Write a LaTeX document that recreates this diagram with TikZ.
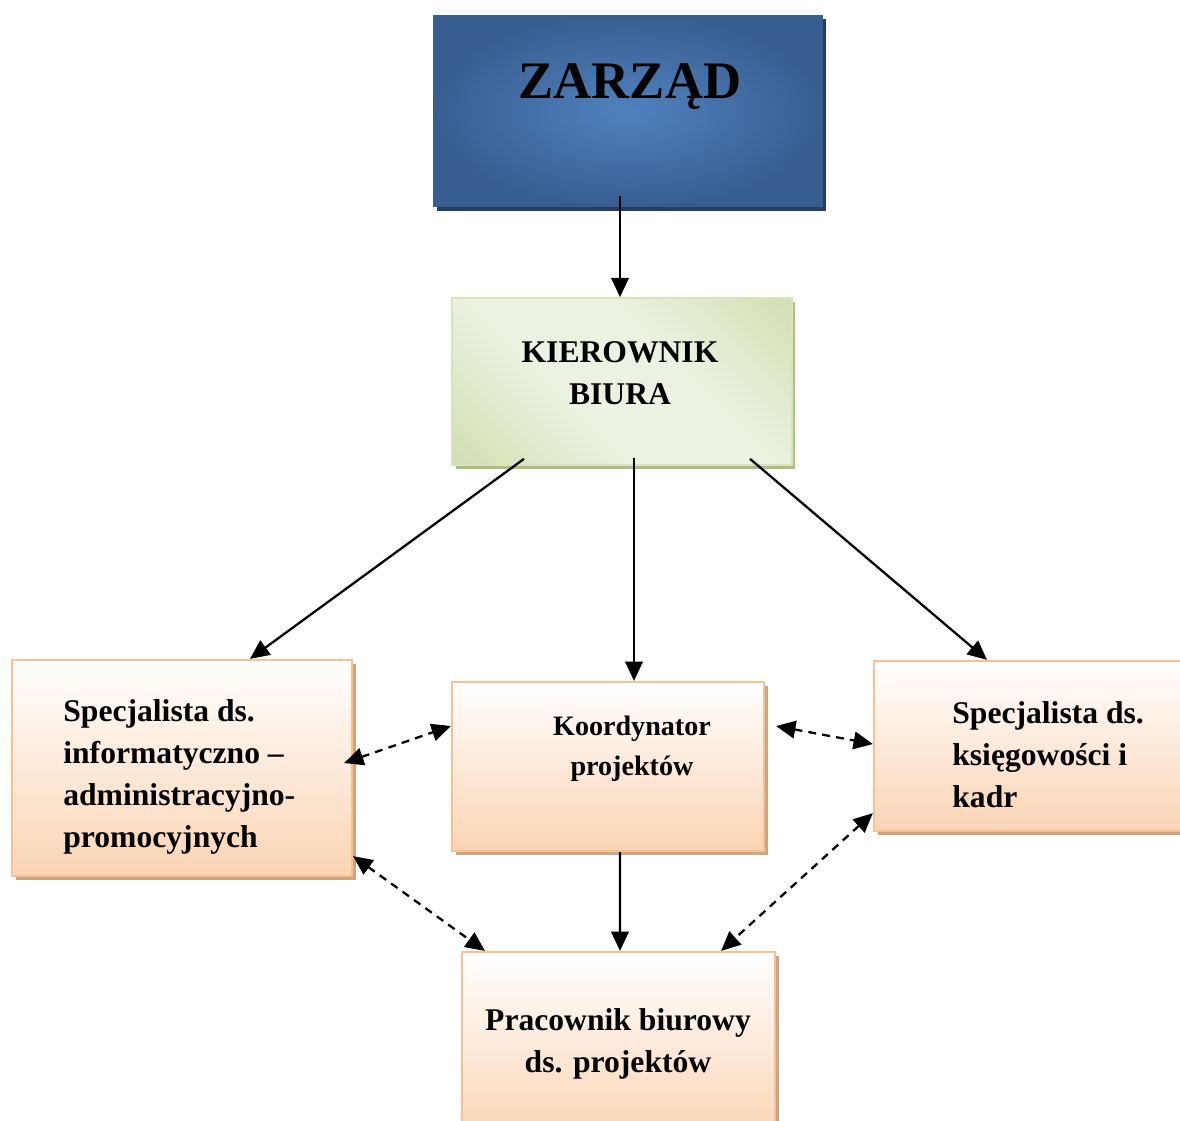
\documentclass[tikz,border=0pt]{standalone}
\usepackage{fontspec}
\setmainfont{Liberation Serif}
\usetikzlibrary{calc}
\usetikzlibrary{arrows.meta}
\usetikzlibrary{shadows}
\definecolor{zarzadin}{RGB}{80,130,190}
\definecolor{zarzadout}{RGB}{56,94,145}
\definecolor{zarzadsh}{RGB}{36,62,96}
\definecolor{kierlight}{RGB}{236,242,225}
\definecolor{kierdark}{RGB}{196,215,155}
\definecolor{kiermid}{RGB}{216,229,190}
\definecolor{kierline}{RGB}{215,228,189}
\definecolor{kiersh}{RGB}{170,190,130}
\definecolor{orbottom}{RGB}{251,212,180}
\definecolor{orline}{RGB}{250,192,144}
\definecolor{orsh}{RGB}{205,165,130}
\pgfdeclarehorizontalshading{kiershade}{100bp}{color(0bp)=(kierdark); color(22bp)=(kiermid); color(40bp)=(kierlight); color(60bp)=(kierlight); color(78bp)=(kiermid); color(100bp)=(kierdark)}
\tikzset{zarzadbox/.style={rectangle, inner color=zarzadin, outer color=zarzadout, drop shadow={shadow xshift=2pt, shadow yshift=-2.5pt, fill=zarzadsh, opacity=1}}}
\tikzset{kierbox/.style={rectangle, draw=kierline, line width=1pt, shading=kiershade, shading angle=45, drop shadow={shadow xshift=2pt, shadow yshift=-2.5pt, fill=kiersh, opacity=1}}}
\tikzset{orbox/.style={rectangle, draw=orline, line width=1.3pt, top color=white, bottom color=orbottom, drop shadow={shadow xshift=2.5pt, shadow yshift=-2.5pt, fill=orsh, opacity=1}}}
\tikzset{lab/.style={font=\bfseries\fontsize{18}{23.8}\selectfont, inner sep=0pt}}
\tikzset{link/.style={line width=1.3pt, -{Triangle[length=11pt,width=10pt]}}}
\tikzset{dlink/.style={line width=1.3pt, dash pattern=on 4.5pt off 3.5pt, {Triangle[length=11pt,width=10pt]}-{Triangle[length=11pt,width=10pt]}}}

\begin{document}
\begin{tikzpicture}[x=0.02cm,y=-0.02cm]
  \useasboundingbox (0,0) rectangle (1180,1120);
  % boxes
  \node[zarzadbox, minimum width=7.8cm, minimum height=3.84cm] (zarzad) at (628,111) {};
  \node[kierbox, minimum width=6.8cm, minimum height=3.34cm] (kier) at (622,381.5) {};
  \node[orbox, minimum width=6.8cm, minimum height=4.32cm] (specl) at (182,768) {};
  \node[orbox, minimum width=6.24cm, minimum height=3.38cm] (koord) at (608,766.5) {};
  \node[orbox, minimum width=6.52cm, minimum height=3.4cm] (specr) at (1037,746) {};
  \node[orbox, minimum width=6.26cm, minimum height=3.76cm] (prac) at (618.5,1046) {};
  % texts (base = last line)
  \node[lab, font=\bfseries\fontsize{30}{36}\selectfont, anchor=base] (zarzadtxt) at (630,98) {ZARZĄD};
  \node[lab, align=center, anchor=base] (kiertxt) at (620,404) {KIEROWNIK\\BIURA};
  \node[lab, align=left, anchor=base west] (specltxt) at (63,847) {Specjalista ds.\\informatyczno --\\administracyjno-\\promocyjnych};
  \node[lab, font=\bfseries\fontsize{16}{22.7}\selectfont, align=center, anchor=base] (koordtxt) at (632,775) {Koordynator\\projektów};
  \node[lab, align=left, anchor=base west] (specrtxt) at (952,807) {Specjalista ds.\\księgowości i\\kadr};
  \node[lab, align=center, anchor=base] (practxt) at (618,1072) {Pracownik biurowy\\ds. projektów};
  % solid connectors
  \draw[link] ($(zarzad.south)+(-8,-11)$) -- ($(kier.north)+(-2,0)$);
  \draw[link] ($(kier.south)+(-98,-7)$) -- ($(specl.north)+(68,0)$);
  \draw[link] ($(kier.south)+(12,-8)$) -- ($(koord.north)+(26,0)$);
  \draw[link] ($(kier.south)+(128,-7)$) -- ($(specr.north)+(-50,0)$);
  \draw[link] ($(koord.south)+(12,0)$) -- ($(prac.north)+(1.5,0)$);
  % dashed connectors
  \draw[dlink] ($(specl.east)+(-9,-5)$) -- ($(koord.west)+(0,-40.5)$);
  \draw[dlink] ($(koord.east)+(11,-40.5)$) -- ($(specr.west)+(0,-2)$);
  \draw[dlink] ($(specl.south east)+(0,-21)$) -- ($(prac.north west)+(24,0)$);
  \draw[dlink] ($(specr.south west)+(0,-19)$) -- ($(prac.north east)+(-55,0)$);
\end{tikzpicture}
\end{document}
